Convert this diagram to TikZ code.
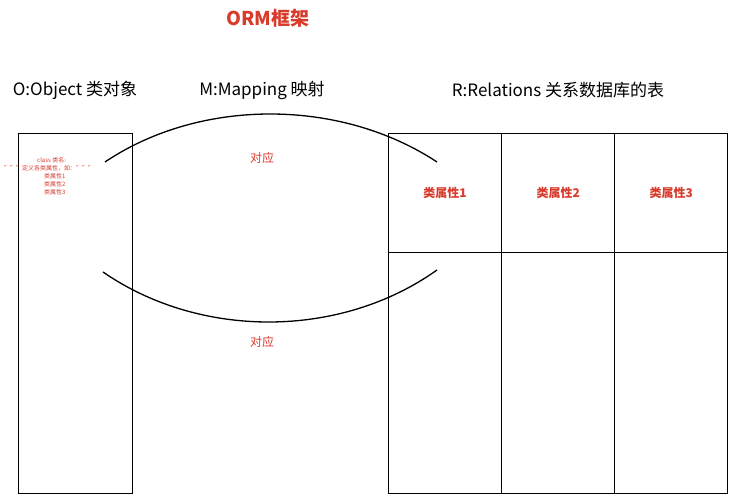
\documentclass[tikz,border=0pt]{standalone}
\usepackage{fontspec}
\setmainfont{Noto Sans CJK SC}
\begin{document}
\begin{tikzpicture}[x=1pt,y=-1pt,
 box/.style={draw,line width=1.3pt},
 hdr/.style={font=\fontsize{17}{20}\selectfont},
 red/.style={text=rd,font=\bfseries\fontsize{12}{14}\selectfont},
 tiny/.style={text=rd,font=\fontsize{6}{8}\selectfont,align=left,inner sep=0pt}]
\definecolor{rd}{HTML}{D83A2B}
\useasboundingbox (0,0) rectangle (742,500);
\node[text=rd,font=\bfseries\fontsize{19}{22}\selectfont] (title) at (268,18) {ORM框架};
\node[hdr] (ho) at (75,90) {O:Object 类对象};
\node[hdr] (hm) at (262,90) {M:Mapping 映射};
\node[hdr] (hr) at (558,90) {R:Relations 关系数据库的表};
\node[box,minimum width=114pt,minimum height=360pt,anchor=north west] (obj) at (18,133) {};
\node[box,minimum width=113pt,minimum height=119pt,anchor=north west] (c1) at (388,133) {};
\node[box,minimum width=113pt,minimum height=119pt,anchor=north west] (c2) at (501,133) {};
\node[box,minimum width=113pt,minimum height=119pt,anchor=north west] (c3) at (614,133) {};
\node[box,minimum width=113pt,minimum height=241pt,anchor=north west] (d1) at (388,252) {};
\node[box,minimum width=113pt,minimum height=241pt,anchor=north west] (d2) at (501,252) {};
\node[box,minimum width=113pt,minimum height=241pt,anchor=north west] (d3) at (614,252) {};
\node[red] (l1) at (c1.center) {类属性1};
\node[red] (l2) at (c2.center) {类属性2};
\node[red] (l3) at (c3.center) {类属性3};
\node[tiny,anchor=north west] (cls) at (4,157) {\hspace*{33pt}class 类名:\\\char34\char34\char34定义各类属性，如：\char34\char34\char34\\\hspace*{40pt}类属性1\\\hspace*{40pt}类属性2\\\hspace*{40pt}类属性3};
\coordinate (a1) at (105,162); \coordinate (a2) at (437,162);
\coordinate (b1) at (103,272); \coordinate (b2) at (437,270);
\draw[line width=1.3pt] (a1) .. controls (200,98) and (340,98) .. (a2);
\draw[line width=1.3pt] (b1) .. controls (200,339) and (340,339) .. (b2);
\node[text=rd,font=\fontsize{12}{14}\selectfont] (m1) at (262,158) {对应};
\node[text=rd,font=\fontsize{12}{14}\selectfont] (m2) at (262,342) {对应};
\end{tikzpicture}
\end{document}
